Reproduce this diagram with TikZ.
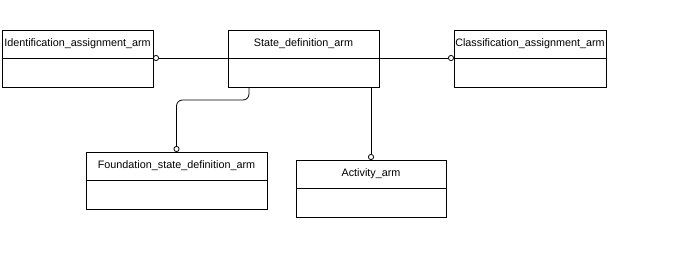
\documentclass[tikz,border=0pt]{standalone}
\usepackage{fontspec}
\setmainfont{Liberation Sans}
\usetikzlibrary{positioning,arrows.meta}

\tikzset{
  head/.style={draw, minimum width=#1, minimum height=28, inner sep=1pt, outer sep=0pt,
    font=\fontsize{10.8}{12}\selectfont},
  body/.style={draw, minimum width=#1, minimum height=29, inner sep=0pt, outer sep=0pt},
  ring/.style={-{Circle[open,length=6pt,width=6pt]}},
  rings/.style={{Circle[open,length=6pt,width=6pt]}-{Circle[open,length=6pt,width=6pt]}}
}

\begin{document}
\begin{tikzpicture}[x=1pt, y=-1pt, line width=0.8pt]
  \useasboundingbox (0,0) rectangle (676,276);
  \node[head=151, anchor=north west] (ident) at (2,30) {Identification\_assignment\_arm};
  \node[body=151, below=0pt of ident] (identbody) {};
  \node[head=151, anchor=north west] (state) at (228,30) {State\_definition\_arm};
  \node[body=151, below=0pt of state] (statebody) {};
  \node[head=152, anchor=north west] (class) at (454,30) {Classification\_assignment\_arm};
  \node[body=152, below=0pt of class] (classbody) {};
  \node[head=181, anchor=north west] (found) at (86,152) {Foundation\_state\_definition\_arm};
  \node[body=181, below=0pt of found] (foundbody) {};
  \node[head=150, anchor=north west] (act) at (296,160) {Activity\_arm};
  \node[body=150, below=0pt of act] (actbody) {};

  \draw[rings] (ident.south east) -- (class.south west);
  \draw[ring, rounded corners=6] ([xshift=21]statebody.south west) -- ++(0,13) -| (found.north);
  \draw[ring] (act.north |- statebody.south) -- (act.north);
\end{tikzpicture}
\end{document}
